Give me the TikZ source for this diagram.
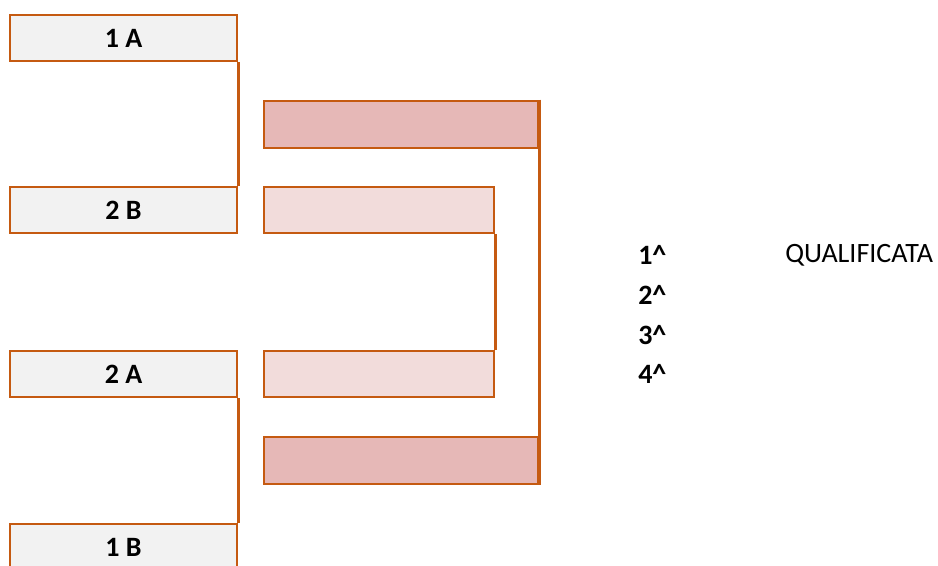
\documentclass[tikz,border=0pt]{standalone}
\usepackage{fontspec}
\setmainfont{Carlito}
\definecolor{edge}{HTML}{C55A11}
\definecolor{grayfill}{HTML}{F2F2F2}
\definecolor{darkpink}{HTML}{E6B8B7}
\definecolor{lightpink}{HTML}{F2DCDB}
\begin{document}
\begin{tikzpicture}[x=0.75pt,y=-0.75pt,
  team/.style={draw=edge, line width=2.2pt, fill=grayfill, minimum width=227*0.75pt, minimum height=46*0.75pt, inner sep=0pt, text depth=-1.5pt, font=\fontsize{21}{24}\selectfont\bfseries},
  final/.style={draw=edge, line width=2.2pt, fill=darkpink, minimum width=274*0.75pt, minimum height=47*0.75pt, inner sep=0pt},
  semi/.style={draw=edge, line width=2.2pt, fill=lightpink, minimum width=230*0.75pt, minimum height=46*0.75pt, inner sep=0pt},
  conn/.style={draw=edge, line width=1.8pt},
  rank/.style={anchor=west, inner sep=0pt, font=\fontsize{21}{24}\selectfont\bfseries},
  lbl/.style={anchor=west, inner sep=0pt, font=\fontsize{21}{24}\selectfont}]
\useasboundingbox (0,0) rectangle (938,565);
\clip (0,0) rectangle (938,565);
\fill[white] (0,0) rectangle (938,565);
% left column
\node[team] (a1) at (123.5,38) {1 A};
\node[team] (b2) at (123.5,210) {2 B};
\node[team] (a2) at (123.5,374) {2 A};
\node[team] (b1) at (123.5,547) {1 B};
% semifinal boxes
\node[semi] (s1) at (379,210) {};
\node[semi] (s2) at (379,374) {};
% final boxes
\node[final] (f1) at (401,124.5) {};
\node[final] (f2) at (401,460.5) {};
% connectors
\draw[conn] (a1.south east) -- (b2.north east);
\draw[conn] (a2.south east) -- (b1.north east);
\draw[conn] (s1.south east) -- (s2.north east);
\draw[conn] (f1.north east) -- (f2.south east);
% ranking
\node[rank] (r1) at (638,255) {1\textasciicircum};
\node[rank] (r2) at (638,295) {2\textasciicircum};
\node[rank] (r3) at (638,335) {3\textasciicircum};
\node[rank] (r4) at (638,374) {4\textasciicircum};
\node[lbl] (q) at (785,255) {QUALIFICATA};
\end{tikzpicture}
\end{document}
